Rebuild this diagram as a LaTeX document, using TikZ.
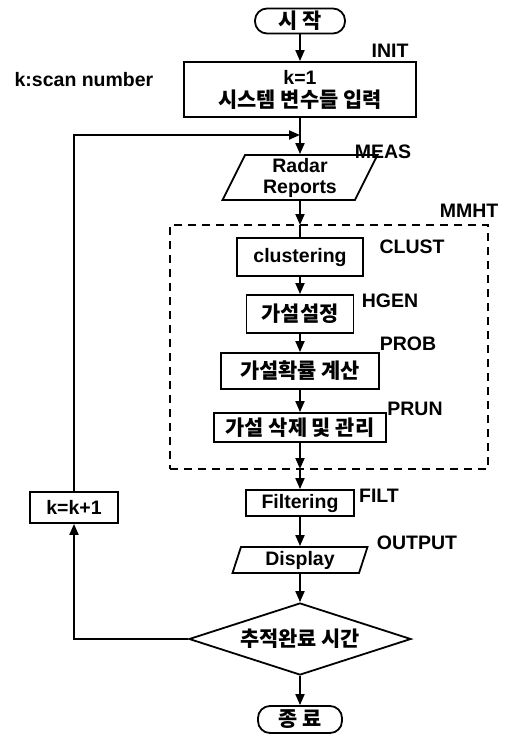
\documentclass[tikz,border=0pt]{standalone}
\usepackage{fontspec}
\setmainfont{Liberation Sans}
\newfontfamily\kr{Noto Sans CJK KR}[Scale=1.07]
\usetikzlibrary{shapes.geometric,arrows.meta}

\tikzset{
  box/.style={draw, inner sep=0pt, align=center},
  term/.style={box, rounded corners=12pt},
  para/.style={box, trapezium, trapezium stretches body, trapezium left angle=#1, trapezium right angle=180-#1},
  tag/.style={inner sep=0pt, anchor=center}
}

\begin{document}
\begin{tikzpicture}[x=1pt, y=-1pt, line width=1.8pt, >={Triangle[length=11pt,width=9pt]},
    font=\fontsize{19.5}{22}\selectfont\bfseries]
  \useasboundingbox (0,0) rectangle (507,736);

  % MMHT block
  \node[draw, dashed, dash pattern=on 8pt off 6pt, line width=1.4pt, minimum width=318, minimum height=244] (mmht) at (329,347) {};

  % main column
  \node[term, minimum width=90, minimum height=25] (start) at (300,21) {\kr 시 작};
  \node[box, minimum width=232, minimum height=55] (init) at (300,89.5) {k=1\\[1pt]{\kr 시스템 변수들 입력}};
  \node[para=60, minimum width=155, minimum height=45] (meas) at (300,177.5) {Radar\\[-1pt]Reports};
  \node[box, minimum width=126, minimum height=38] (clust) at (300,257) {clustering};
  \node[box, minimum width=107, minimum height=38] (hgen) at (300,314) {\kr 가설설정};
  \node[box, minimum width=158, minimum height=36] (prob) at (300,371) {\kr 가설확률 계산};
  \node[box, minimum width=172, minimum height=29] (prun) at (300,427.5) {\kr 가설 삭제 및 관리};
  \node[box, minimum width=108, minimum height=26] (filt) at (300,503) {Filtering};
  \node[para=65, minimum width=135, minimum height=26] (out) at (300,560) {Display};
  \node[box, diamond, aspect=3, minimum width=222, minimum height=72] (dec) at (300,639) {\kr 추적완료 시간};
  \node[term, minimum width=84, minimum height=27] (stop) at (300,719.5) {\kr 종 료};
  \node[box, minimum width=88, minimum height=31] (inc) at (74,507.5) {k=k+1};

  % labels
  \node[tag] (linit) at (390,51) {INIT};
  \node[tag] (lscan) at (84,80) {k:scan number};
  \node[tag] (lmeas) at (383,152) {MEAS};
  \node[tag] (lmmht) at (469,211) {MMHT};
  \node[tag] (lclust) at (412,247) {CLUST};
  \node[tag] (lhgen) at (390,301) {HGEN};
  \node[tag] (lprob) at (408,344) {PROB};
  \node[tag] (lprun) at (415,409) {PRUN};
  \node[tag] (lfilt) at (379,496) {FILT};
  \node[tag] (lout) at (417,543) {OUTPUT};

  \coordinate (join) at (300,135);
  \coordinate (mmin) at (300,225);
  \coordinate (mmout) at (300,469);

  % connectors
  \draw[->] (start) -- (init);
  \draw[->] (init) -- (meas);
  \draw[->] (meas) -- (mmin);
  \draw (mmin) -- (clust);
  \draw[->] (clust) -- (hgen);
  \draw[->] (hgen) -- (prob);
  \draw[->] (prob) -- (prun);
  \draw[->] (prun) -- (mmout);
  \draw[->] (mmout) -- (filt);
  \draw[->] (filt) -- (out);
  \draw[->] (out) -- (dec);
  \draw[->] (dec) -- (stop);
  \draw[->] (dec.west) -| (inc.south);
  \draw[->] (inc.north) |- (join);
\end{tikzpicture}
\end{document}
